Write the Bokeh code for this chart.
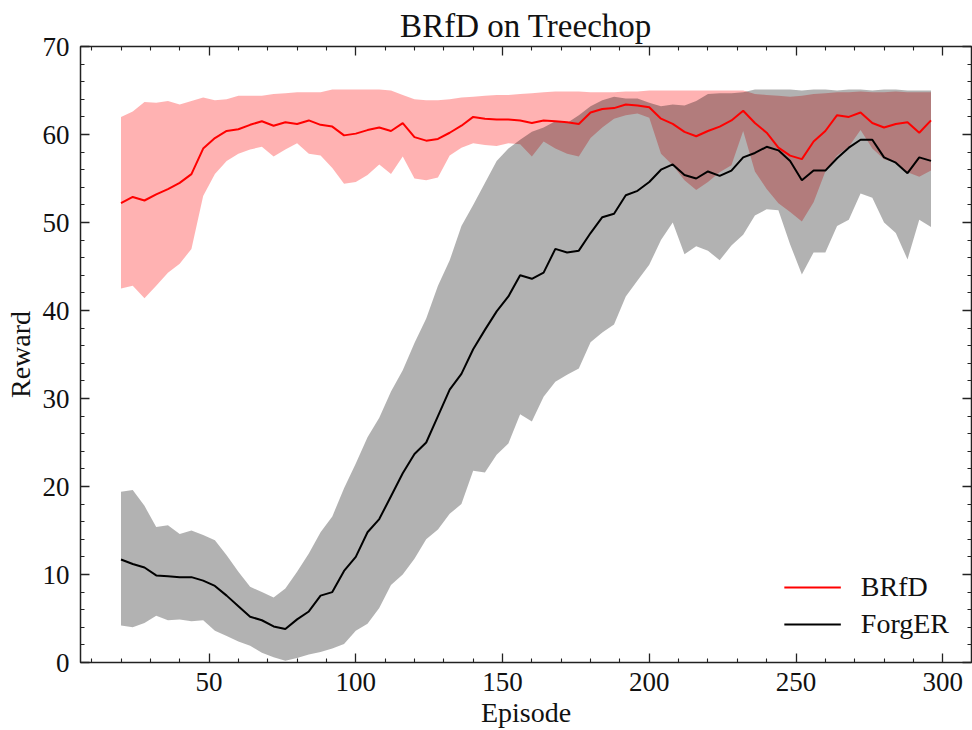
from bokeh.plotting import figure
from bokeh.models import Range1d, LinearAxis, FixedTicker, Legend, LegendItem, ColumnDataSource
from bokeh.embed import file_html
from bokeh.resources import INLINE

episodes = [20, 24, 28, 32, 36, 40, 44, 48, 52, 56, 60, 64, 68, 72, 76, 80, 84, 88, 92, 96,
            100, 104, 108, 112, 116, 120, 124, 128, 132, 136, 140, 144, 148, 152, 156, 160,
            164, 168, 172, 176, 180, 184, 188, 192, 196, 200, 204, 208, 212, 216, 220, 224,
            228, 232, 236, 240, 244, 248, 252, 256, 260, 264, 268, 272, 276, 280, 284, 288,
            292, 296]

brfd_mean = [52.2, 52.9, 52.5, 53.2, 53.8, 54.5, 55.5, 58.4, 59.6, 60.4,
             60.6, 61.1, 61.5, 61.0, 61.4, 61.2, 61.6, 61.1, 60.9, 59.9,
             60.1, 60.5, 60.8, 60.4, 61.3, 59.7, 59.3, 59.5, 60.2, 61.0,
             62.0, 61.8, 61.7, 61.7, 61.6, 61.3, 61.6, 61.5, 61.4, 61.2,
             62.5, 62.9, 63.0, 63.4, 63.3, 63.1, 61.8, 61.2, 60.3, 59.8,
             60.4, 60.9, 61.6, 62.7, 61.3, 60.2, 58.5, 57.6, 57.2, 59.2,
             60.4, 62.2, 62.0, 62.5, 61.3, 60.8, 61.2, 61.4, 60.2, 61.6]

brfd_hi = [62.0, 62.6, 63.7, 63.6, 63.8, 63.4, 63.8, 64.2, 63.9, 64.0,
           64.4, 64.4, 64.4, 64.6, 64.7, 64.8, 64.8, 64.8, 65.1, 65.1,
           65.1, 65.1, 65.1, 65.0, 64.5, 64.0, 63.9, 63.9, 64.0, 64.2,
           64.3, 64.4, 64.5, 64.5, 64.6, 64.7, 64.8, 64.9, 64.9, 64.9,
           64.8, 64.8, 64.8, 64.9, 64.9, 65.0, 65.0, 65.0, 65.0, 65.0,
           65.0, 65.0, 65.0, 65.0, 64.6, 64.5, 64.4, 64.3, 64.4, 64.6,
           64.7, 64.8, 64.8, 64.9, 64.8, 64.8, 64.9, 64.8, 64.8, 64.8]

brfd_lo = [42.5, 42.8, 41.4, 42.8, 44.3, 45.3, 47.0, 53.0, 55.5, 57.0,
           57.8, 58.3, 58.6, 57.5, 58.3, 59.0, 57.8, 57.6, 56.2, 54.4,
           54.6, 55.4, 56.6, 55.5, 57.5, 55.0, 54.8, 55.1, 57.6, 58.5,
           59.0, 58.8, 58.7, 59.0, 58.9, 57.5, 59.2, 58.4, 57.8, 57.5,
           59.6, 60.8, 61.8, 62.2, 62.4, 61.9, 57.8, 56.5, 54.8, 53.7,
           54.6, 55.7, 56.5, 60.4, 55.8, 53.8, 52.2, 51.2, 50.1, 52.3,
           55.8, 57.6, 58.6, 60.5, 58.4, 57.2, 56.8, 55.7, 55.2, 55.9]

forg_mean = [11.7, 11.2, 10.8, 9.9, 9.8, 9.7, 9.7, 9.3, 8.7, 7.6,
             6.4, 5.2, 4.8, 4.1, 3.8, 4.9, 5.8, 7.6, 8.0, 10.4,
             12.0, 14.8, 16.3, 18.9, 21.5, 23.7, 25.0, 28.0, 31.0, 32.8,
             35.6, 37.8, 39.9, 41.6, 44.0, 43.6, 44.3, 47.0, 46.6, 46.8,
             48.8, 50.6, 51.0, 53.1, 53.6, 54.6, 56.0, 56.6, 55.4, 55.0,
             55.8, 55.3, 55.9, 57.4, 57.9, 58.6, 58.2, 57.0, 54.8, 55.9,
             55.9, 57.3, 58.5, 59.4, 59.4, 57.4, 56.8, 55.6, 57.4, 57.0]

forg_hi = [19.4, 19.6, 17.8, 15.4, 15.6, 14.6, 15.0, 14.5, 13.9, 12.2,
           10.3, 8.6, 8.0, 7.4, 8.4, 10.3, 12.4, 14.8, 16.6, 19.8,
           22.6, 25.6, 27.8, 30.8, 33.2, 36.3, 39.1, 42.8, 45.7, 49.6,
           52.0, 54.5, 57.0, 58.4, 59.4, 60.3, 60.8, 61.5, 61.3, 62.2,
           63.2, 63.9, 64.3, 64.1, 64.1, 63.6, 63.2, 63.4, 63.3, 63.8,
           64.6, 64.7, 64.7, 64.8, 65.1, 65.1, 65.1, 65.1, 65.0, 65.1,
           65.1, 65.0, 65.1, 65.1, 65.0, 65.1, 65.1, 65.0, 65.0, 65.0]

forg_lo = [4.2, 4.0, 4.5, 5.3, 4.8, 4.9, 4.7, 4.8, 3.6, 3.0,
           2.4, 1.9, 1.1, 0.6, 0.2, 0.5, 0.9, 1.2, 1.6, 2.1,
           3.6, 4.4, 6.2, 8.8, 10.0, 11.8, 14.0, 15.1, 16.9, 18.0,
           21.8, 21.6, 23.6, 24.9, 28.2, 27.4, 30.2, 31.9, 32.7, 33.4,
           36.4, 37.5, 38.4, 41.6, 43.4, 45.2, 48.0, 50.0, 46.4, 47.3,
           46.8, 45.7, 47.4, 48.6, 50.8, 51.5, 51.4, 47.5, 44.1, 46.6,
           46.6, 49.6, 50.3, 53.3, 52.8, 50.0, 48.8, 45.8, 50.3, 49.5]

x_major = [50, 100, 150, 200, 250, 300]
x_minor = [10, 20, 30, 40, 60, 70, 80, 90, 110, 120, 130, 140, 160, 170, 180, 190,
           210, 220, 230, 240, 260, 270, 280, 290]
y_major = [0, 10, 20, 30, 40, 50, 60, 70]
y_minor = [2, 4, 6, 8, 12, 14, 16, 18, 22, 24, 26, 28, 32, 34, 36, 38, 42, 44, 46, 48,
           52, 54, 56, 58, 62, 64, 66, 68]

FONT = "Liberation Serif"

src = ColumnDataSource(dict(x=episodes, bm=brfd_mean, bh=brfd_hi, bl=brfd_lo,
                            fm=forg_mean, fh=forg_hi, fl=forg_lo))

p = figure(width=972, height=730, output_backend="svg", toolbar_location=None,
           x_range=Range1d(6.2, 309.8), y_range=Range1d(0, 70),
           min_border_left=80, min_border_right=1, min_border_top=46, min_border_bottom=68)
p.background_fill_color = "white"
p.border_fill_color = "white"
p.xgrid.visible = False
p.ygrid.visible = False
p.outline_line_color = "#222222"
p.outline_line_width = 1.5

p.title.text = "BRfD on Treechop"
p.title.align = "center"
p.title.text_font = FONT
p.title.text_font_size = "33px"
p.title.text_font_style = "normal"
p.title.text_color = "#111111"
p.title.standoff = 5

# bands and lines
p.varea(x="x", y1="bl", y2="bh", source=src, fill_color="red", fill_alpha=0.3)
p.varea(x="x", y1="fl", y2="fh", source=src, fill_color="black", fill_alpha=0.3)
r_red = p.line(x="x", y="bm", source=src, line_color="red", line_width=2)
r_blk = p.line(x="x", y="fm", source=src, line_color="black", line_width=2)

def style_axis(ax, ticks, minor, show_labels=True):
    ax.ticker = FixedTicker(ticks=ticks, minor_ticks=minor)
    ax.axis_line_color = None
    ax.major_tick_in = 9
    ax.major_tick_out = 0
    ax.minor_tick_in = 4
    ax.minor_tick_out = 0
    ax.major_tick_line_color = "#222222"
    ax.minor_tick_line_color = "#222222"
    ax.major_tick_line_width = 1.3
    ax.minor_tick_line_width = 1.1
    if show_labels:
        ax.major_label_text_font = FONT
        ax.major_label_text_font_size = "27px"
        ax.major_label_text_color = "#111111"
        ax.axis_label_text_font = FONT
        ax.axis_label_text_font_size = "28px"
        ax.axis_label_text_font_style = "normal"
        ax.axis_label_text_color = "#111111"
    else:
        ax.major_label_overrides = {t: "" for t in ticks}
        ax.major_label_text_font_size = "1px"
        ax.major_label_standoff = 0
        ax.axis_label = None

style_axis(p.xaxis[0], x_major, x_minor)
style_axis(p.yaxis[0], y_major, y_minor)
p.xaxis[0].axis_label = "Episode"
p.yaxis[0].axis_label = "Reward"
p.xaxis[0].major_label_standoff = 10
p.xaxis[0].axis_label_standoff = 3
p.yaxis[0].major_label_standoff = 11
p.yaxis[0].axis_label_standoff = 4

top_ax = LinearAxis()
right_ax = LinearAxis()
style_axis(top_ax, x_major, x_minor, show_labels=False)
style_axis(right_ax, y_major, y_minor, show_labels=False)
p.add_layout(top_ax, "above")
p.add_layout(right_ax, "right")

legend = Legend(items=[LegendItem(label="BRfD", renderers=[r_red]),
                       LegendItem(label="ForgER", renderers=[r_blk])],
                location="bottom_right")
legend.label_text_font = FONT
legend.label_text_font_size = "28px"
legend.label_text_color = "#111111"
legend.glyph_width = 57
legend.glyph_height = 20
legend.label_standoff = 20
legend.spacing = 5
legend.padding = 0
legend.margin = 22
legend.border_line_color = None
legend.background_fill_alpha = 0
p.add_layout(legend)

open("out.html", "w").write(file_html(p, INLINE))
